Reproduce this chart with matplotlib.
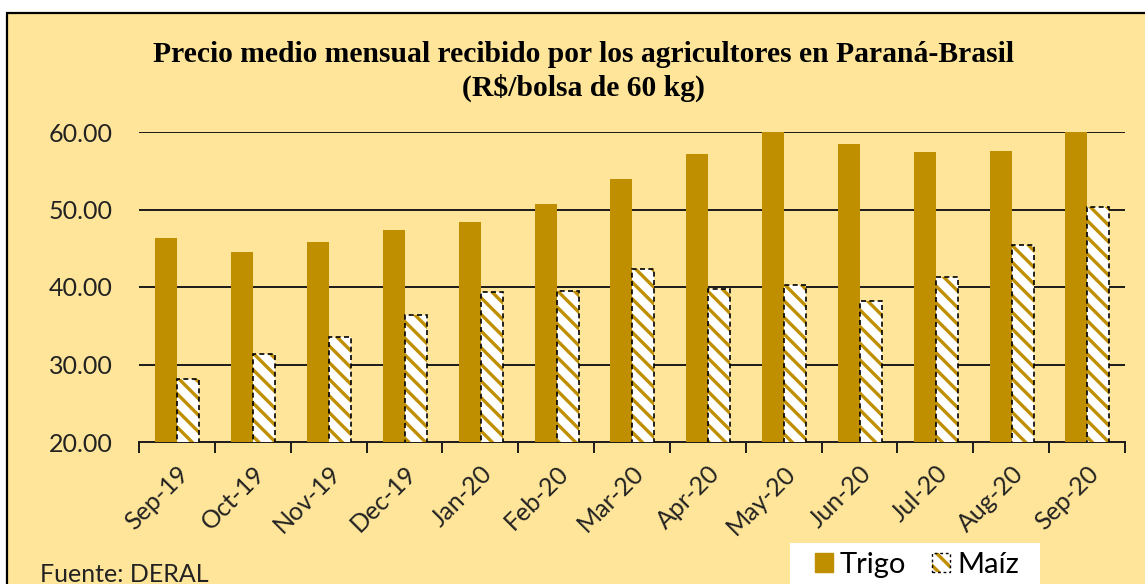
import numpy as np
import matplotlib
matplotlib.use("Agg")
import matplotlib.pyplot as plt
from matplotlib.patches import Rectangle
from matplotlib.legend_handler import HandlerTuple

# monthly price data (R$/bolsa de 60 kg)
meses = ["Sep-19", "Oct-19", "Nov-19", "Dec-19", "Jan-20", "Feb-20", "Mar-20",
         "Apr-20", "May-20", "Jun-20", "Jul-20", "Aug-20", "Sep-20"]
trigo = [46.3, 44.5, 45.8, 47.3, 48.35, 50.7, 54.0, 57.2, 61.0, 58.4, 57.4, 57.6, 60.8]
maiz = [28.1, 31.4, 33.5, 36.4, 39.3, 39.5, 42.3, 39.8, 40.3, 38.2, 41.3, 45.4, 50.3]
y_ticks = [20, 30, 40, 50, 60]

gold = "#BF8F00"
fondo = "#FFE599"

plt.rcParams["font.family"] = ["Lato", "DejaVu Sans"]
plt.rcParams["hatch.linewidth"] = 2.4

W, H = 1145, 584
fig = plt.figure(figsize=(W / 100, H / 100), dpi=100, facecolor="white")

# yellow chart area with black frame
fig.patches.append(Rectangle((7 / W, -0.2), 1.2, 1.2 - 13 / H,
                             transform=fig.transFigure, facecolor=fondo,
                             edgecolor="black", linewidth=1.6, zorder=-1))

ax = fig.add_axes([139 / W, 1 - 442 / H, (1125 - 139) / W, (442 - 132) / H])
ax.set_facecolor("none")

x = np.arange(len(meses))
bw = 0.29
ax.bar(x - 0.14, trigo, bw, color=gold, zorder=3)
ax.bar(x + 0.15, maiz, bw, facecolor="white", edgecolor=gold,
       hatch="\\\\", linewidth=0, zorder=3)
ax.bar(x + 0.15, maiz, bw, facecolor="none", edgecolor="black",
       linewidth=1.2, linestyle=(0, (3, 2)), zorder=4)

ax.set_ylim(20, 60)
ax.set_xlim(-0.5, len(meses) - 0.5)
ax.set_yticks(y_ticks)
ax.set_yticklabels([f"{v:.2f}" for v in y_ticks], fontsize=18, color="#222222")
ax.tick_params(axis="y", length=0, pad=19)
for v in y_ticks[1:]:
    ax.axhline(v, color="#1a1a1a", linewidth=1.4, zorder=1)

ax.set_xticks(np.arange(len(meses) + 1) - 0.5)
ax.set_xticklabels([])
ax.tick_params(axis="x", which="major", length=8, width=1.4, color="#1a1a1a")
ax.set_xticks(x, minor=True)
ax.set_xticklabels(meses, minor=True, rotation=45, ha="right",
                   rotation_mode="anchor", fontsize=18, color="#222222")
ax.tick_params(axis="x", which="minor", length=0, pad=14)

for s in ["top", "right", "left"]:
    ax.spines[s].set_visible(False)
ax.spines["bottom"].set_linewidth(1.4)
ax.spines["bottom"].set_color("#1a1a1a")

fig.text(583 / W, 1 - 54 / H, "Precio medio mensual recibido por los agricultores en Paraná-Brasil",
         family="Liberation Serif", weight="bold", fontsize=21.3, ha="center", va="center")
fig.text(583 / W, 1 - 88 / H, "(R\\$/bolsa de 60 kg)",
         family="Liberation Serif", weight="bold", fontsize=21.3, ha="center", va="center")

fig.text(40 / W, 1 - 563 / H, "Fuente: DERAL", fontsize=18, color="#222222",
         ha="left", va="top")

# white legend box, partly cut by the bottom edge
fig.patches.append(Rectangle((790 / W, -0.1), 250 / W, 0.1 + 1 - 543 / H,
                             transform=fig.transFigure, facecolor="white",
                             edgecolor="none", zorder=5))
leg = fig.legend([Rectangle((0, 0), 1, 1, color=gold),
                  (Rectangle((0, 0), 1, 1, facecolor="white", edgecolor=gold,
                             hatch="\\\\", linewidth=0),
                   Rectangle((0, 0), 1, 1, facecolor="none", edgecolor="black",
                             linewidth=1.0, linestyle=(0, (2, 2))))],
                 ["Trigo", "Maíz"], ncol=2, loc="upper left",
                 bbox_to_anchor=(815 / W, 1 - 552 / H), fontsize=21,
                 handler_map={tuple: HandlerTuple(ndivide=1)},
                 handlelength=0.6, handleheight=0.6, handletextpad=0.25,
                 columnspacing=0.9, frameon=False, borderpad=0, borderaxespad=0)
leg.set_zorder(6)

fig.savefig("out.png", dpi=100, facecolor="white")
